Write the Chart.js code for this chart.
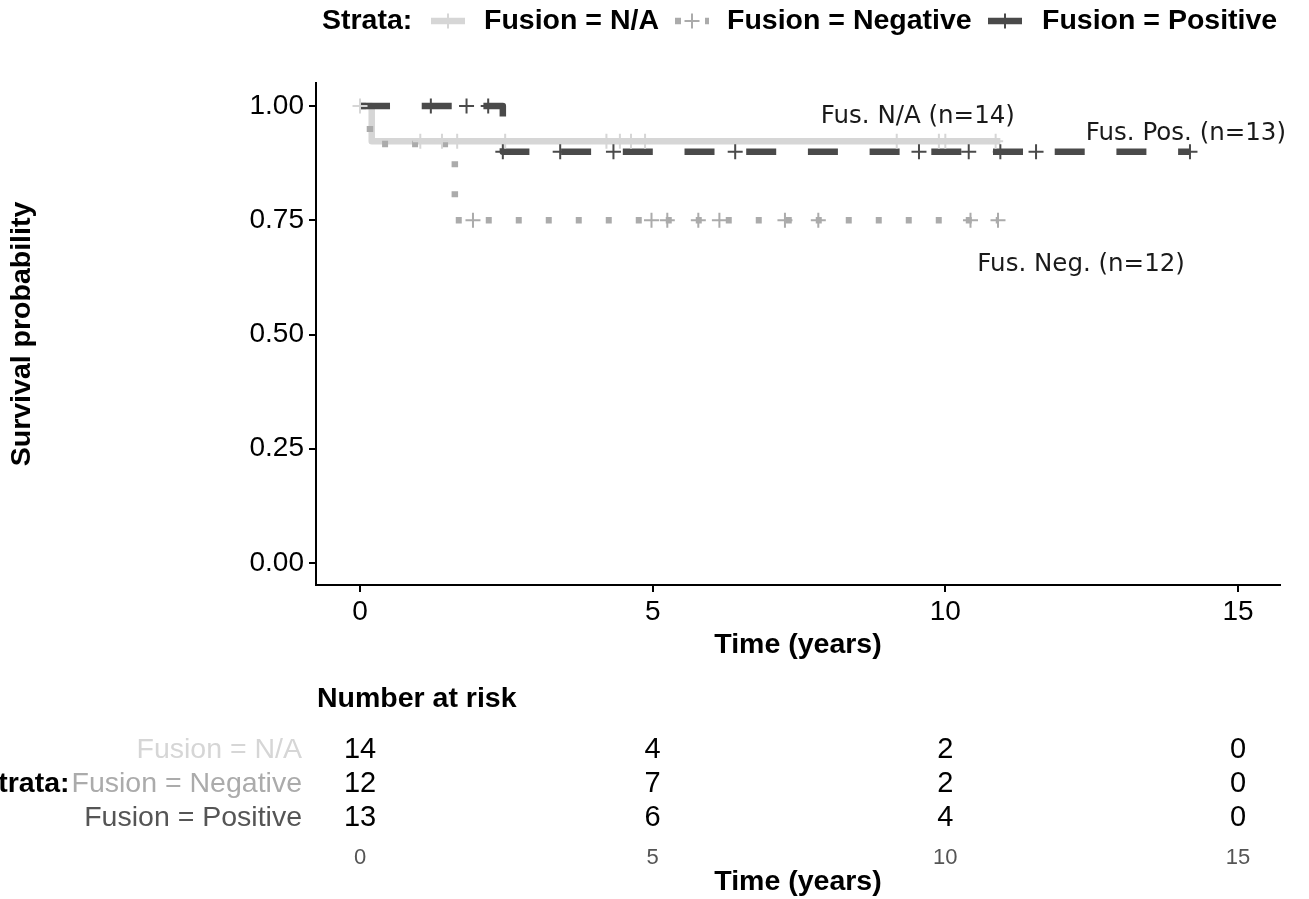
<!DOCTYPE html>
<html>
<head>
<meta charset="utf-8">
<script src="https://cdn.jsdelivr.net/npm/chart.js@4.4.1/dist/chart.umd.min.js"></script>
<style>
  html, body { margin: 0; padding: 0; background: #fff; }
  #wrap { position: relative; width: 1309px; height: 899px; }
</style>
</head>
<body>
<div id="wrap"><canvas id="km" width="1309" height="899"></canvas></div>
<script>
// --- DATA ---
const strata = ['Fusion = N/A', 'Fusion = Negative', 'Fusion = Positive'];
const curveLabels = ['Fus. N/A (n=14)', 'Fus. Neg. (n=12)', 'Fus. Pos. (n=13)'];

// KM step points (years, survival)
const naTimes = [0, 0.2, 10.94];
const naSurv = [1, 0.923, 0.923];
const negTimes = [0, 0.17, 1.62, 10.9];
const negSurv = [1, 0.917, 0.75, 0.75];
const posTimes = [0, 2.44, 14.18];
const posSurv = [1, 0.9, 0.9];

// censoring times (years)
const naCensor = [0, 1.03, 1.40, 1.66, 2.48, 4.21, 4.44, 4.63, 4.87, 9.17, 9.89, 10.0, 10.86];
const negCensor = [1.93, 4.98, 5.25, 5.78, 6.14, 7.26, 7.83, 10.43, 10.9];
const posCensor = [1.21, 1.82, 2.19, 2.44, 3.42, 4.33, 6.41, 9.55, 10.4, 10.94, 11.55, 14.18];

// number at risk table
const riskTimes = [0, 5, 10, 15];
const naRisk = [14, 4, 2, 0];
const negRisk = [12, 7, 2, 0];
const posRisk = [13, 6, 4, 0];

const xTicks = [0, 5, 10, 15];
const yTicks = [0, 0.25, 0.5, 0.75, 1];

// --- STYLE ---
const colors = ['#d6d6d6', '#ababab', '#4a4a4a'];
const dashes = [[], [6, 24], [30, 31.7]];
const LINE_W = 6.5;
const SANS = '"Liberation Sans", Arial, sans-serif';
const ANNO = '"DejaVu Sans", sans-serif';

function survAt(times, surv, t) {
    let s = surv[0];
    times.forEach((tt, i) => { if (tt <= t) s = surv[i]; });
    return s;
}

function stepDataset(i, times, surv) {
    return {
        label: strata[i],
        data: times.map((t, k) => ({ x: t, y: surv[k] })),
        borderColor: colors[i],
        borderWidth: LINE_W,
        borderDash: dashes[i],
        borderCapStyle: 'butt',
        borderJoinStyle: 'round',
        stepped: true,
        pointRadius: 0,
        fill: false,
        order: 10 - i
    };
}

function censorDataset(i, cens, times, surv) {
    return {
        type: 'scatter',
        label: strata[i] + ' censored',
        data: cens.map(t => ({ x: t, y: survAt(times, surv, t) })),
        pointStyle: 'cross',
        pointRadius: 7.5,
        borderWidth: 2,
        borderColor: colors[i],
        backgroundColor: colors[i],
        showLine: false,
        order: 3 - i
    };
}

// legend key: short line segment with a censor cross
function drawKey(ctx, x0, x1, y, i) {
    ctx.save();
    ctx.strokeStyle = colors[i];
    ctx.lineWidth = LINE_W;
    ctx.lineCap = 'butt';
    ctx.setLineDash(i === 1 ? dashes[1] : []);
    ctx.beginPath(); ctx.moveTo(x0, y); ctx.lineTo(x1, y); ctx.stroke();
    ctx.setLineDash([]);
    ctx.lineWidth = 2;
    const cx = (x0 + x1) / 2;
    ctx.beginPath();
    ctx.moveTo(cx - 7.5, y); ctx.lineTo(cx + 7.5, y);
    ctx.moveTo(cx, y - 7.5); ctx.lineTo(cx, y + 7.5);
    ctx.stroke();
    ctx.restore();
}

const kmDecor = {
    id: 'kmDecor',
    afterDraw(chart) {
        const ctx = chart.ctx;
        const xs = chart.scales.x, ys = chart.scales.y;
        ctx.save();

        // legend on top
        const ly = 21;
        const keyX = [[431, 465], [675, 709], [988, 1022]];
        const textX = [484, 727, 1042];
        ctx.textBaseline = 'middle';
        ctx.textAlign = 'left';
        ctx.fillStyle = '#000';
        ctx.font = 'bold 28.5px ' + SANS;
        ctx.fillText('Strata:', 322, ly);
        strata.forEach((s, i) => {
            drawKey(ctx, keyX[i][0], keyX[i][1], ly, i);
            ctx.fillStyle = '#000';
            ctx.fillText(s, textX[i], ly);
        });

        // curve annotations
        const annoPos = [[9.53, 0.976], [12.32, 0.652], [14.11, 0.939]];
        ctx.font = '24.5px ' + ANNO;
        ctx.textAlign = 'center';
        ctx.fillStyle = '#1a1a1a';
        curveLabels.forEach((t, i) => {
            ctx.fillText(t, xs.getPixelForValue(annoPos[i][0]), ys.getPixelForValue(annoPos[i][1]));
        });

        // number at risk table
        ctx.textAlign = 'left';
        ctx.fillStyle = '#000';
        ctx.font = 'bold 28.5px ' + SANS;
        ctx.fillText('Number at risk', 317, 699);

        const rows = [naRisk, negRisk, posRisk];
        const rowY = [750, 784, 818];
        rows.forEach((vals, r) => {
            ctx.font = '28.5px ' + SANS;
            ctx.textAlign = 'right';
            ctx.fillStyle = r === 2 ? '#555555' : colors[r];
            ctx.fillText(strata[r], 302, rowY[r]);
            if (r === 1) {
                const left = 302 - ctx.measureText(strata[r]).width;
                ctx.font = 'bold 28.5px ' + SANS;
                ctx.fillStyle = '#000';
                ctx.fillText('Strata:', left - 2, rowY[r]);
            }
            ctx.font = '29px ' + SANS;
            ctx.textAlign = 'center';
            ctx.fillStyle = '#000';
            vals.forEach((v, k) => ctx.fillText(String(v), xs.getPixelForValue(riskTimes[k]), rowY[r]));
        });

        ctx.font = '22px ' + SANS;
        ctx.fillStyle = '#555555';
        riskTimes.forEach(t => ctx.fillText(String(t), xs.getPixelForValue(t), 858));
        ctx.font = 'bold 28.5px ' + SANS;
        ctx.fillStyle = '#000';
        ctx.fillText('Time (years)', (xs.left + xs.right) / 2, 882);

        ctx.restore();
    }
};

const ctx = document.getElementById('km').getContext('2d');
new Chart(ctx, {
    type: 'line',
    data: {
        datasets: [
            stepDataset(0, naTimes, naSurv),
            stepDataset(1, negTimes, negSurv),
            stepDataset(2, posTimes, posSurv),
            censorDataset(0, naCensor, naTimes, naSurv),
            censorDataset(1, negCensor, negTimes, negSurv),
            censorDataset(2, posCensor, posTimes, posSurv)
        ]
    },
    options: {
        responsive: false,
        animation: false,
        devicePixelRatio: 1,
        layout: { padding: { top: 83, right: 29, bottom: 237, left: 0 } },
        plugins: { legend: { display: false }, tooltip: { enabled: false } },
        scales: {
            x: {
                type: 'linear',
                min: -0.752,
                max: 15.718,
                afterBuildTicks: s => { s.ticks = xTicks.map(v => ({ value: v })); },
                afterFit: s => { s.height = 77; },
                grid: { display: true, drawOnChartArea: false, drawTicks: true, tickLength: 7, color: '#000', lineWidth: 2 },
                border: { display: true, color: '#000', width: 2 },
                ticks: { color: '#000', font: { family: SANS, size: 28 }, padding: 3, maxRotation: 0 },
                title: { display: true, text: 'Time (years)', color: '#000', font: { family: SANS, size: 28.5, weight: 'bold' }, padding: { top: 0, bottom: 0 } }
            },
            y: {
                min: -0.0481,
                max: 1.0503,
                afterBuildTicks: s => { s.ticks = yTicks.map(v => ({ value: v })); },
                afterFit: s => { s.width = 316; },
                grid: { display: true, drawOnChartArea: false, drawTicks: true, tickLength: 7, color: '#000', lineWidth: 2 },
                border: { display: true, color: '#000', width: 2 },
                ticks: { color: '#000', font: { family: SANS, size: 28 }, padding: 5, callback: v => Number(v).toFixed(2) },
                title: { display: true, text: 'Survival probability', color: '#000', font: { family: SANS, size: 28.5, weight: 'bold' }, padding: { top: 5, bottom: 0 } }
            }
        }
    },
    plugins: [kmDecor]
});
</script>
</body>
</html>
